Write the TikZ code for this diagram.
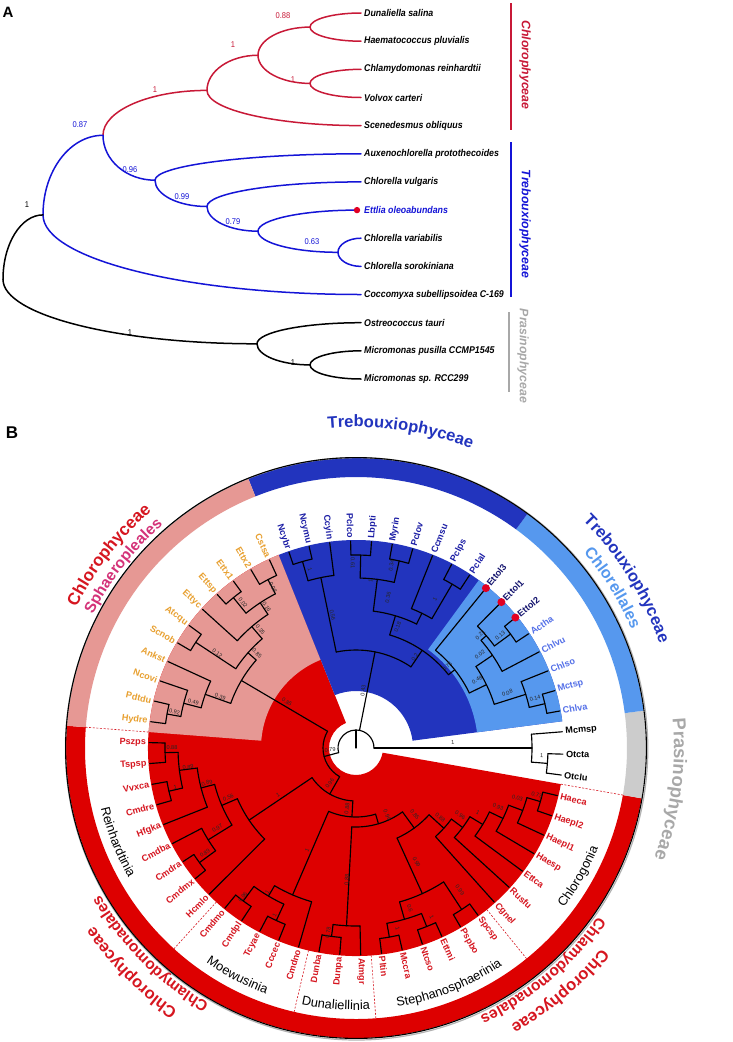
\documentclass[tikz,border=0pt]{standalone}
\usepackage{fontspec}
\setmainfont{Liberation Sans}
\newfontfamily\condsans[FakeStretch=0.9]{Liberation Sans}
\usetikzlibrary{decorations.text,calc}
\definecolor{cred}{RGB}{221,0,0}
\definecolor{cpink}{RGB}{230,152,148}
\definecolor{cdblue}{RGB}{34,52,190}
\definecolor{clblue}{RGB}{86,152,238}
\definecolor{cgray}{RGB}{204,204,204}
\definecolor{torange}{RGB}{232,160,48}
\definecolor{tdblue}{RGB}{28,30,165}
\definecolor{tnavy}{RGB}{20,20,110}
\definecolor{tlblue}{RGB}{84,112,232}
\definecolor{tred}{RGB}{214,22,32}
\definecolor{tmag}{RGB}{212,50,120}
\definecolor{tgray}{RGB}{168,168,168}
\definecolor{ared}{RGB}{200,25,55}
\definecolor{ablue}{RGB}{20,20,215}
\definecolor{dotred}{RGB}{225,0,35}

% quarter-ellipse branch: vertical at the parent, horizontal at the child
\newcommand\cbr[3]{\draw[abr,#1] let \p1=(#2), \p2=(#3) in
  (\p1) .. controls ({\x1},{\y1+0.5523*(\y2-\y1)}) and ({\x2-0.5523*(\x2-\x1)},{\y2}) .. (\p2);}
\newcommand\tiplabel[3]{%
  \pgfmathtruncatemacro\tside{cos(#1)<0 ? 1 : 0}%
  \ifnum\tside=1
    \node[tipl,text=#3,anchor=east,rotate=#1+180] (tip#2) at (#1:210) {#2};%
  \else
    \node[tipl,text=#3,anchor=west,rotate=#1] (tip#2) at (#1:210) {#2};%
  \fi}
\newcommand\bsv[3]{%
  \pgfmathsetmacro\brot{cos(#1)<0 ? #1+180 : #1}%
  \node[bsl,rotate=\brot] at (#1:#2) {#3};}
\newcommand\arctext[6]{%
  \path[decorate,decoration={text along path,text align=center,text color=#4,
    text={|#5|#6}}] (#2:#1) arc[start angle=#2,end angle=#3,radius=#1];}
\newcommand\sect[5]{\fill[#1] (#2:#4) arc[start angle=#2,end angle=#3,radius=#4] -- (#3:#5) arc[start angle=#3,end angle=#2,radius=#5] -- cycle;}

\begin{document}
\begin{tikzpicture}[x=1pt,y=1pt,
  tree/.style={line width=1.15pt,line cap=round,line join=round,black},
  abr/.style={line width=1.5pt,line cap=round},
  alab/.style={font=\condsans\fontsize{9.8}{11}\selectfont\bfseries\itshape,inner sep=0pt,anchor=west},
  asup/.style={font=\condsans\fontsize{8.4}{9}\selectfont,inner sep=0pt},
  brk/.style={font=\fontsize{12.3}{13}\selectfont\bfseries\itshape,inner sep=0pt,rotate=-90},
  tipl/.style={font=\fontsize{9.1}{10}\selectfont\bfseries,inner sep=0pt},
  bsl/.style={font=\fontsize{5.6}{6}\selectfont,inner sep=0pt,text=black!85}]
\useasboundingbox (0,0) rectangle (732,-1042);
\fill[white] (0,0) rectangle (732,-1042);

% ================= Panel A =================
\node[font=\fontsize{15}{15}\selectfont\bfseries,inner sep=0pt] (labA) at (8,-12) {A};
\coordinate (l0) at (361,-13.0);
\coordinate (l1) at (361,-41.2);
\coordinate (l2) at (361,-69.3);
\coordinate (l3) at (361,-97.5);
\coordinate (l4) at (361,-125.6);
\coordinate (l5) at (361,-153.8);
\coordinate (l6) at (361,-181.9);
\coordinate (l7) at (357,-210.1);
\coordinate (l8) at (361,-238.2);
\coordinate (l9) at (361,-266.4);
\coordinate (l10) at (361,-294.5);
\coordinate (l11) at (361,-322.7);
\coordinate (l12) at (361,-350.8);
\coordinate (l13) at (361,-379.0);
\coordinate (n1) at (310,-27.1);
\coordinate (n2) at (310,-83.4);
\coordinate (n3) at (258,-55.25);
\coordinate (n4) at (207,-90.4);
\coordinate (b1) at (338,-252.3);
\coordinate (b2) at (258,-231.2);
\coordinate (b3) at (207,-206.5);
\coordinate (b4) at (155,-180.2);
\coordinate (q) at (103,-135.3);
\coordinate (p) at (43,-214.9);
\coordinate (r1) at (310,-364.9);
\coordinate (r0) at (257,-343.8);
\coordinate (rt) at (3,-279.4);

\cbr{ared}{n1}{l0} \cbr{ared}{n1}{l1}
\cbr{ared}{n2}{l2} \cbr{ared}{n2}{l3}
\cbr{ared}{n3}{n1} \cbr{ared}{n3}{n2}
\cbr{ared}{n4}{n3} \cbr{ared}{n4}{l4}
\cbr{ared}{q}{n4}
\cbr{ablue}{b1}{l8} \cbr{ablue}{b1}{l9}
\cbr{ablue}{b2}{l7} \cbr{ablue}{b2}{b1}
\cbr{ablue}{b3}{l6} \cbr{ablue}{b3}{b2}
\cbr{ablue}{b4}{l5} \cbr{ablue}{b4}{b3}
\cbr{ablue}{q}{b4}
\cbr{ablue}{p}{q} \cbr{ablue}{p}{l10}
\cbr{black}{rt}{p} \cbr{black}{rt}{r0}
\cbr{black}{r0}{l11} \cbr{black}{r0}{r1}
\cbr{black}{r1}{l12} \cbr{black}{r1}{l13}
\fill[dotred] (l7) circle[radius=3.2];

\node[alab] (s0) at (364,-13.0) {Dunaliella salina};
\node[alab] (s1) at (364,-41.2) {Haematococcus pluvialis};
\node[alab] (s2) at (364,-69.3) {Chlamydomonas reinhardtii};
\node[alab] (s3) at (364,-97.5) {Volvox carteri};
\node[alab] (s4) at (364,-125.6) {Scenedesmus obliquus};
\node[alab] (s5) at (364,-153.8) {Auxenochlorella protothecoides};
\node[alab] (s6) at (364,-181.9) {Chlorella vulgaris};
\node[alab,text=ablue] (s7) at (364,-210.1) {Ettlia oleoabundans};
\node[alab] (s8) at (364,-238.2) {Chlorella variabilis};
\node[alab] (s9) at (364,-266.4) {Chlorella sorokiniana};
\node[alab] (s10) at (364,-294.5) {Coccomyxa subellipsoidea C-169};
\node[alab] (s11) at (364,-322.7) {Ostreococcus tauri};
\node[alab] (s12) at (364,-350.8) {Micromonas pusilla CCMP1545};
\node[alab] (s13) at (364,-379.0) {Micromonas sp. RCC299};

\node[asup,text=ared] at (283,-16) {0.88};
\node[asup,text=ared] at (233,-45) {1};
\node[asup,text=ared] at (293,-80) {1};
\node[asup,text=ared] at (155,-90) {1};
\node[asup,text=ablue] at (80,-125) {0.87};
\node[asup,text=ablue] at (130,-170) {0.96};
\node[asup,text=ablue] at (182,-197) {0.99};
\node[asup,text=ablue] at (233,-222) {0.79};
\node[asup,text=ablue] at (312,-242) {0.63};
\node[asup] at (27,-205) {1};
\node[asup] at (130,-333) {1};
\node[asup] at (293,-363) {1};

\draw[ared,line width=1.6pt] (511,-3) -- (511,-130);
\draw[ablue,line width=1.6pt] (511,-142) -- (511,-297);
\draw[tgray,line width=1.6pt] (509,-312) -- (509,-392);
\node[brk,text=ared] (cA) at (525,-65) {Chlorophyceae};
\node[brk,text=ablue] (tA) at (525,-224) {Trebouxiophyceae};
\node[brk,text=tgray] (pA) at (523,-356) {Prasinophyceae};

% ================= Panel B =================
\node[font=\fontsize{17}{17}\selectfont\bfseries,inner sep=0pt] (labB) at (12,-433) {B};

\begin{scope}[shift={(356,-748)}]
% sectors
\sect{cred}{111.8}{350}{27}{208}
\sect{cpink}{111.8}{175.6}{95}{208}
\sect{cdblue}{7.4}{111.8}{57}{208}
\sect{clblue}{7.4}{53.8}{122}{208}
% outer ring
\sect{cred}{175.6}{350}{271}{290}
\sect{cgray}{-10}{7.4}{271}{290}
\sect{clblue}{7.4}{53.8}{271}{290}
\sect{cdblue}{53.8}{111.8}{271}{290}
\sect{cpink}{111.8}{175.6}{271}{290}
\draw[black!30,line width=1.2pt] (0.6,-0.8) circle[radius=291.2];
\draw[black,line width=1.1pt] (0,0) circle[radius=290.4];
% dashed subclade separators
\foreach \a in {175.6,227.8,256.8,274.2,309.0,350.0}
  \draw[tred,line width=0.6pt,dash pattern=on 2pt off 1.6pt] (\a:208) -- (\a:271);

% tree: root
\draw[tree] (-0.05:18) arc[start angle=-0.05,end angle=194.9,radius=18];
\draw[tree] (0,0) -- (90:18);
% internal nodes: angle / parent r / r / arc from / arc to
\foreach \t/\rp/\r/\aa/\ab in {
 0/18/176/-4.6/4.5, -4.6/176/192/-7.5/-1.7,
 78.8/18/98/55.9/101.65, 101.65/98/174/97.3/106.0, 106.0/174/194/103.1/108.9,
 55.9/98/118/38.4/73.4, 73.4/118/138/63.95/82.8, 82.8/138/170/77.0/88.6,
 88.6/170/193/85.7/91.5, 77.0/170/192/74.1/79.9, 63.95/138/150/59.6/68.3,
 59.6/150/190/56.7/62.5, 38.4/118/126/25.9/50.9, 25.9/126/145/17.55/34.2,
 34.2/145/165/27.7/40.75, 40.75/165/172/36.4/45.1, 36.4/172/192/33.5/39.3,
 17.55/145/178/13.2/21.9, 13.2/178/194/10.3/16.1,
 194.9/18/33/149.5/240.3, 149.5/33/133/138.6/160.4, 138.6/133/144/130.65/146.6,
 146.6/144/192/143.7/149.5, 130.65/144/160/123.4/137.9, 123.4/160/174/117.6/129.2,
 129.2/174/194/126.3/132.1, 117.6/174/190/114.7/120.5, 160.4/133/160/155.3/165.45,
 165.45/160/178/161.1/169.8, 169.8/178/192/166.9/172.7,
 240.3/33/53/214.0/266.6, 214.0/53/129/203.15/224.9, 203.15/129/146/194.45/211.85,
 194.45/146/160/187.2/201.7, 187.2/160/178/181.4/193.0, 181.4/178/191/178.5/184.3,
 193.0/178/192/190.1/195.9, 211.85/146/174/207.5/216.2, 216.2/174/194/213.3/219.1,
 266.6/53/69/246.65/286.5, 246.65/69/160/239.4/253.9, 239.4/160/172/233.6/245.2,
 233.6/172/190/230.7/236.5, 245.2/172/190/242.3/248.1,
 286.5/69/79/266.95/306.05, 266.95/79/178/262.6/271.3, 262.6/178/190/259.7/265.5,
 306.05/79/99/294.5/317.6, 294.5/99/160/285.8/303.2, 285.8/160/178/280.0/291.6,
 280.0/178/192/277.1/282.9, 291.6/178/192/288.7/294.5, 303.2/160/193/300.3/306.1,
 317.6/99/119/311.9/323.3, 323.3/119/133/317.7/328.9, 328.9/133/148/323.5/334.4,
 334.4/148/163/329.3/339.45, 339.45/163/178/335.1/343.8, 343.8/178/192/340.9/346.7}
 {\draw[tree] (\t:\rp) -- (\t:\r);
  \draw[tree] (\aa:\r) arc[start angle=\aa,end angle=\ab,radius=\r];}
% leaves: angle / parent r
\foreach \t/\rp in {4.5/176,-7.5/192,-1.7/192,
 10.3/194,16.1/194,21.9/178,27.7/165,33.5/192,39.3/192,45.1/172,50.9/126,
 56.7/190,62.5/190,68.3/150,74.1/192,79.9/192,85.7/193,91.5/193,97.3/174,103.1/194,108.9/194,
 114.7/190,120.5/190,126.3/194,132.1/194,137.9/160,143.7/192,149.5/192,155.3/160,161.1/178,166.9/192,172.7/192,
 178.5/191,184.3/191,190.1/192,195.9/192,201.7/160,207.5/174,213.3/194,219.1/194,224.9/129,
 230.7/190,236.5/190,242.3/190,248.1/190,253.9/160,259.7/190,265.5/190,271.3/178,
 277.1/192,282.9/192,288.7/192,294.5/192,300.3/193,306.1/193,311.9/119,317.7/133,323.5/148,
 329.3/163,335.1/178,340.9/192,346.7/192}
 {\draw[tree] (\t:\rp) -- (\t:207);}
\foreach \a in {50.9,45.1,39.3} \fill[dotred] (\a:206) circle[radius=4];

% tip labels
\foreach \a/\n in {4.5/Mcmsp,-1.7/Otcta,-7.5/Otclu} {\tiplabel{\a}{\n}{black}}
\foreach \a/\n in {10.3/Chlva,16.1/Mctsp,21.9/Chlso,27.7/Chlvu,33.5/Actha} {\tiplabel{\a}{\n}{tlblue}}
\foreach \a/\n in {39.3/Ettol2,45.1/Ettol1,50.9/Ettol3} {\tiplabel{\a}{\n}{tnavy}}
\foreach \a/\n in {56.7/Pclal,62.5/Pclps,68.3/Ccmsu,74.1/Pclov,79.9/Myrin,85.7/Lbpti,91.5/Pclco,97.3/Ccyin,103.1/Ncymu,108.9/Ncybr} {\tiplabel{\a}{\n}{tdblue}}
\foreach \a/\n in {114.7/Cstsa,120.5/Ettx2,126.3/Ettx1,132.1/Ettsp,137.9/Ettyc,143.7/Atcqu,149.5/Scnob,155.3/Ankst,161.1/Ncovi,166.9/Pdtdu,172.7/Hydre} {\tiplabel{\a}{\n}{torange}}
\foreach \a/\n in {178.5/Pszps,184.3/Tspsp,190.1/Vvxca,195.9/Cmdre,201.7/Hfgka,207.5/Cmdba,213.3/Cmdra,219.1/Cmdmx,224.9/Hcmlo,230.7/Cmdmo,236.5/Cmdpl,242.3/Tcyae,248.1/Cccec,253.9/Cmdno,259.7/Dunba,265.5/Dunpa,271.3/Atmgr,277.1/Pltin,282.9/Mccra,288.7/Ntcso,294.5/Ettmi,300.3/Pspbo,306.1/Spcsp,311.9/Cgnel,317.7/Rusfu,323.5/Ettca,329.3/Haesp,335.1/Haepl1,340.9/Haepl2,346.7/Haeca} {\tiplabel{\a}{\n}{tred}}

% support values
\foreach \a/\r/\s in {104.5/184/1,100/135/0.56,91/185/0.61,85/168/1,79/186/0.34,78/154/0.36,
 71/128/0.18,62/168/1,57/108/0.2,83/58/0.43,41.7/122/0.76,42.3/168/0.21,38/183/0.13,37/155/0.02,
 29.4/139/0.48,20/161/0.08,15.6/186/0.14,3.5/97/1,-2.2/186/1,
 117.3/181/0.08,127.9/184/0.02,122.3/167/0.16,129/152/0.35,136.2/137/0.85,145.6/168/0.12,
 159.4/145/0.39,164.2/169/0.49,168.8/185/0.92,146.3/83/0.85,
 184/26/0.79,180/184/0.88,186.5/169/0.89,192.2/185/1,193.2/153/0.89,201.3/137/0.56,210/160/0.97,
 214.8/184/0.89,211/91/1,233.4/44/0.96,261.5/61/0.88,232.8/187/0.96,238.3/169/1,244/186/1,
 244.3/113/1,261.4/187/0.78,266/132/0.88,298/129/0.99,288.6/169/0.6,283/185/1,294.2/185/1,
 306.2/176/0.99,295/74/0.96,311.4/89/0.85,320.6/109/0.88,327.2/124/0.96,332/138/1,337.4/154/0.93,
 342.7/169/0.03,345.4/187/0.73}
 {\bsv{\a}{\r}{\s}}

% subclade names (tops toward centre)
\arctext{262}{166}{237}{black}{\fontsize{12.8}{13}\selectfont}{Reinhardtinia}
\arctext{262}{212}{273}{black}{\fontsize{12.8}{13}\selectfont}{Moewusinia}
\arctext{262}{240}{291}{black}{\fontsize{12.8}{13}\selectfont}{Dunaliellinia}
\arctext{262}{256}{327}{black}{\fontsize{12.8}{13}\selectfont}{Stephanosphaerinia}
\arctext{262}{300}{360}{black}{\fontsize{12.8}{13}\selectfont}{Chlorogonia}

% class / order names (tops outward)
\arctext{321}{122}{42}{cdblue}{\fontsize{16.5}{17}\selectfont\bfseries}{Trebouxiophyceae}
\arctext{321}{72}{-8}{cdblue}{\fontsize{16.5}{17}\selectfont\bfseries}{Trebouxiophyceae}
\arctext{300}{72}{-8}{clblue}{\fontsize{16}{17}\selectfont\bfseries}{Chlorellales}
\arctext{318}{32}{-47}{tgray}{\fontsize{18.5}{19}\selectfont\bfseries}{Prasinophyceae}
\arctext{313}{182}{102}{tred}{\fontsize{17}{17}\selectfont\bfseries}{Chlorophyceae}
\arctext{295}{182}{102}{tmag}{\fontsize{15.5}{16}\selectfont\bfseries}{Sphaeropleales}
\arctext{317}{265}{185}{tred}{\fontsize{16.5}{17}\selectfont\bfseries}{Chlorophyceae}
\arctext{295}{265}{185}{tred}{\fontsize{15.5}{16}\selectfont\bfseries}{Chlamydomonadales}
\arctext{317}{350}{270}{tred}{\fontsize{16.5}{17}\selectfont\bfseries}{Chlorophyceae}
\arctext{295}{350}{270}{tred}{\fontsize{15.5}{16}\selectfont\bfseries}{Chlamydomonadales}
\end{scope}
\end{tikzpicture}
\end{document}
